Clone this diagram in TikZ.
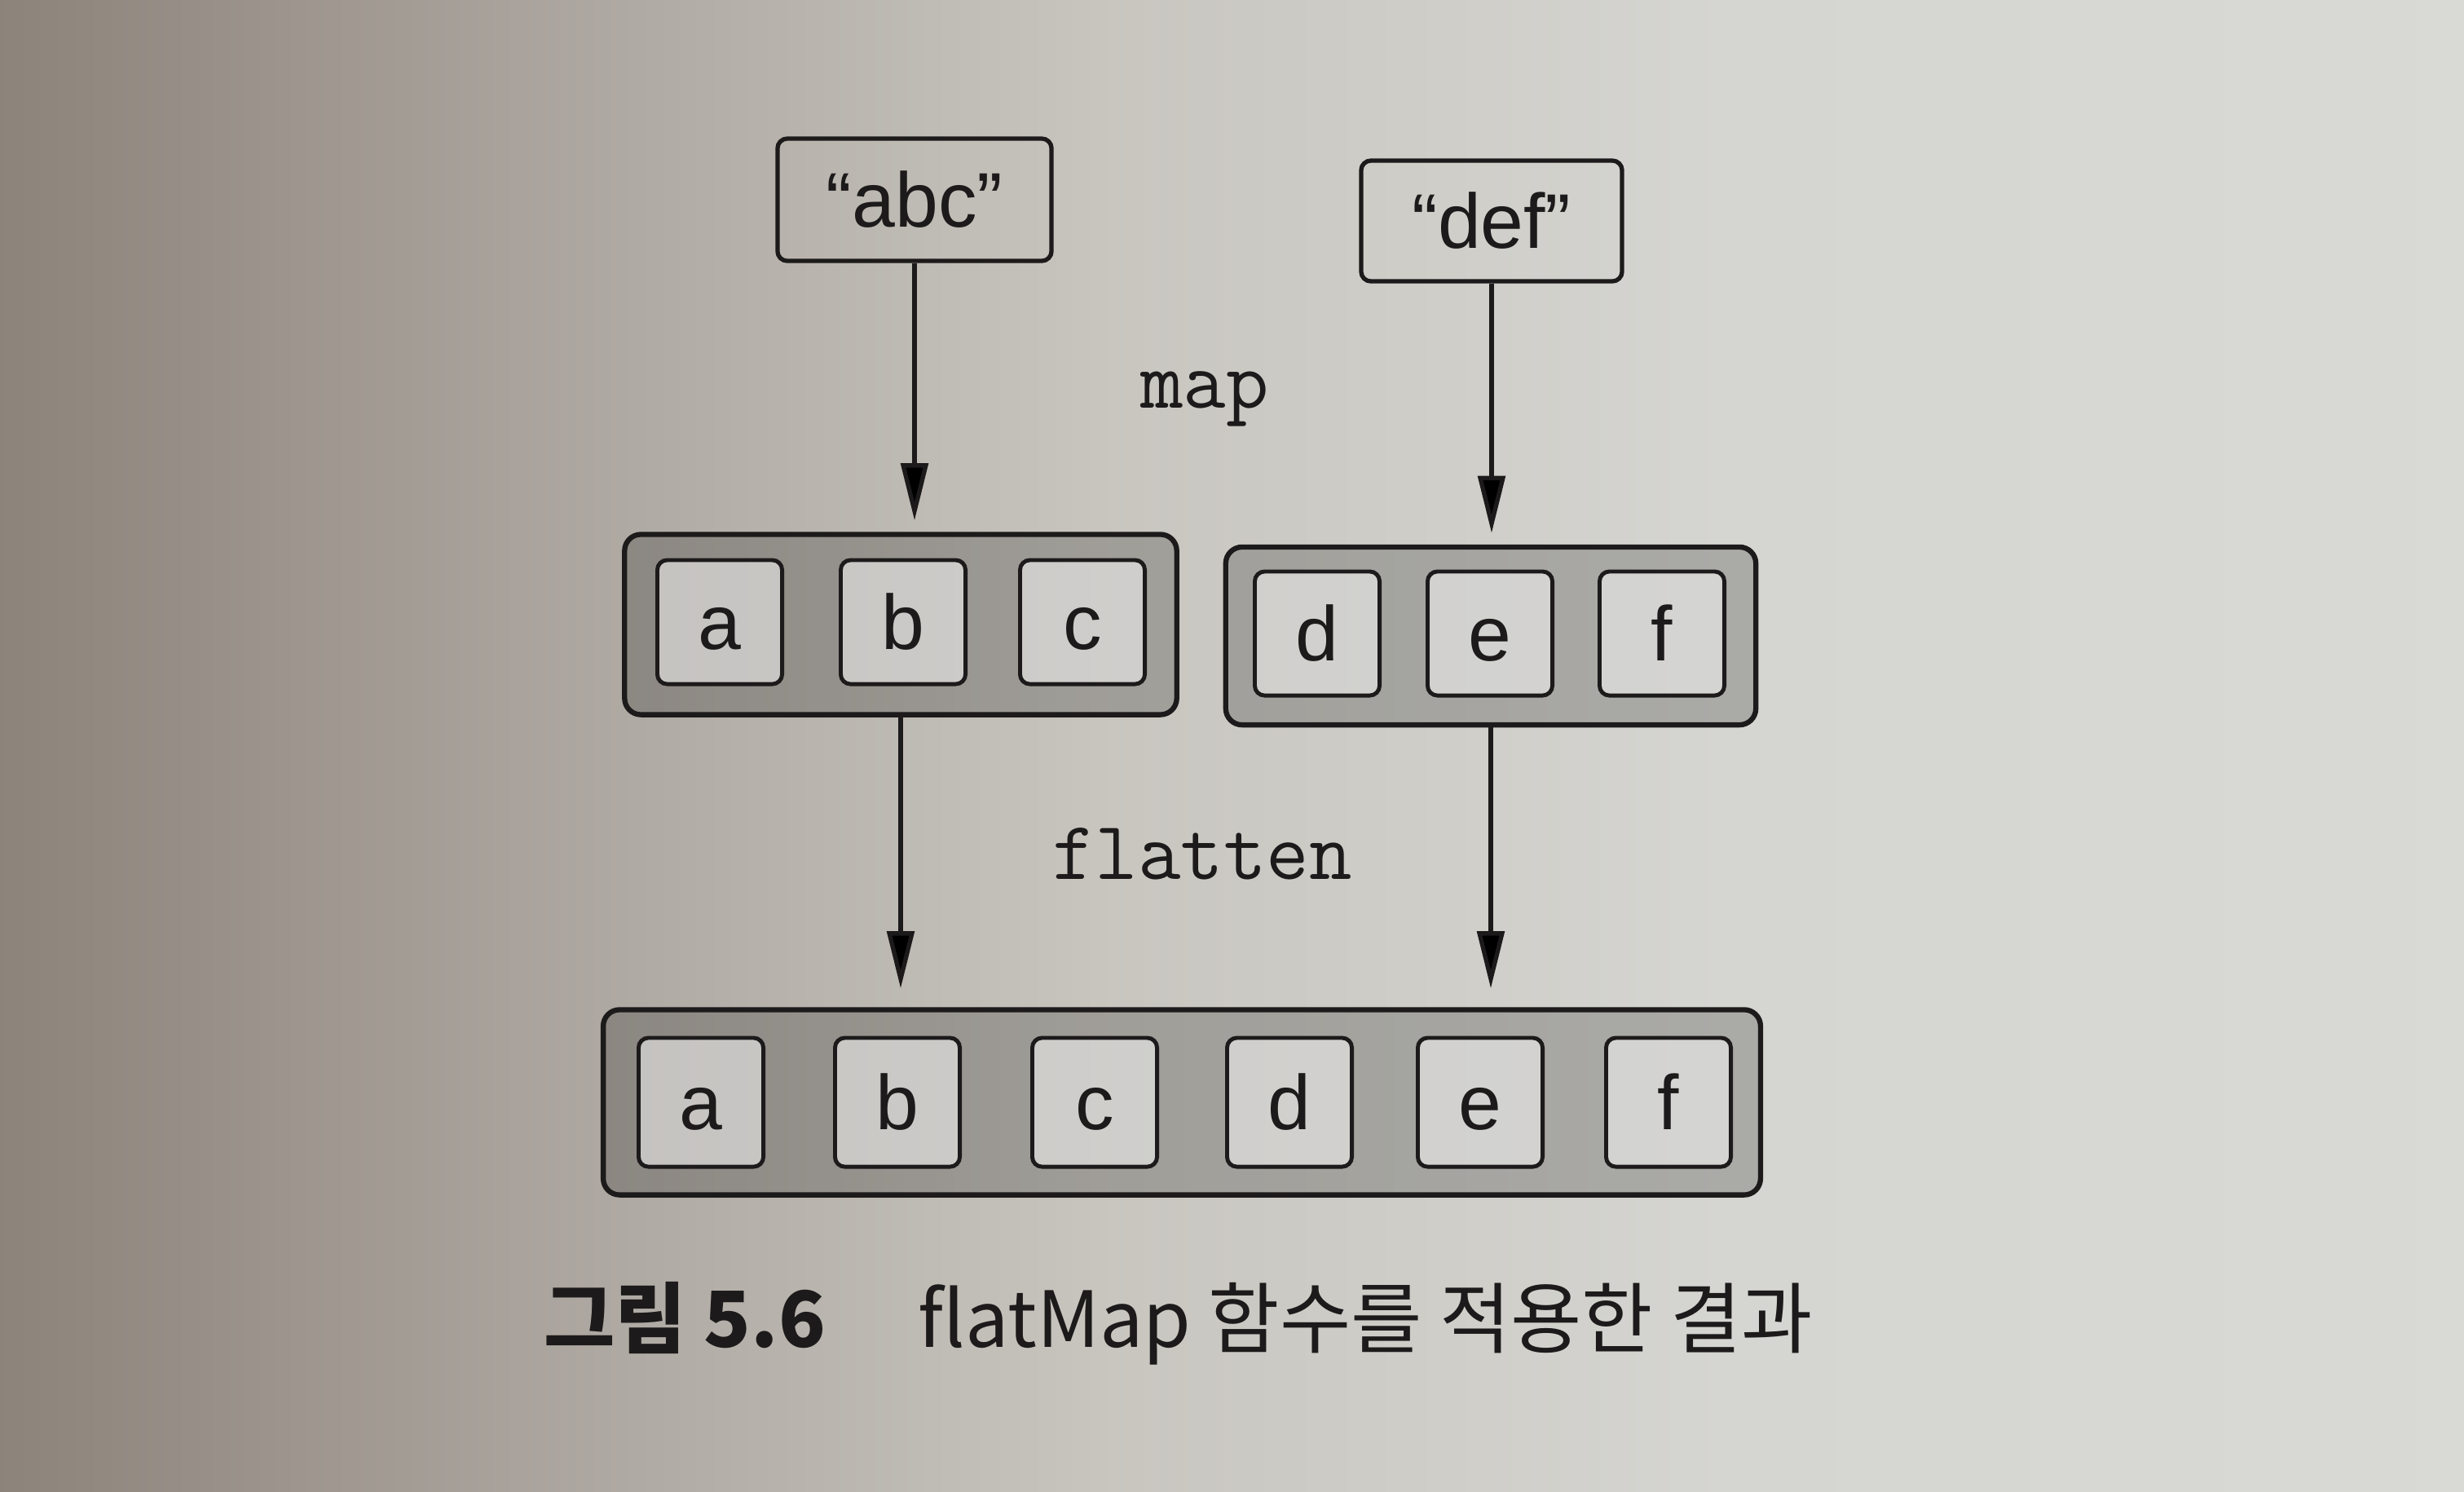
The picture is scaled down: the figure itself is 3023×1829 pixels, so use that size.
\documentclass[tikz,border=0pt]{standalone}
\usepackage{fontspec}
\setmainfont{Liberation Sans}
\newfontfamily\krfont{Noto Sans CJK KR}
\usetikzlibrary{arrows.meta, positioning}
\definecolor{ink}{RGB}{28,26,26}
\pgfdeclarehorizontalshading{paper}{100bp}{rgb(0bp)=(0.55,0.515,0.48); rgb(25bp)=(0.55,0.515,0.48); rgb(36bp)=(0.67,0.645,0.62); rgb(47.5bp)=(0.785,0.775,0.75); rgb(60bp)=(0.835,0.835,0.82); rgb(75bp)=(0.85,0.85,0.835); rgb(100bp)=(0.85,0.85,0.835)}
\tikzset{->,>={Triangle[length=7mm, width=3.3mm]},
strbox/.style={draw=ink, line width=1.5pt, rounded corners=1.2mm, inner sep=0pt, minimum height=1.5cm, text=ink, font=\fontsize{27}{30}\selectfont, text height=19.3pt, text depth=0pt},
group/.style={draw=ink, line width=1.8pt, rounded corners=2mm, fill=black, fill opacity=0.2, draw opacity=1, inner sep=0pt, minimum height=2.21cm},
cell/.style={draw=ink, line width=1.4pt, rounded corners=1.2mm, fill=white, fill opacity=0.5, draw opacity=1, text opacity=1, text=ink, inner sep=0pt, minimum width=1.53cm, minimum height=1.52cm, font=\fontsize{27}{30}\selectfont, text height=19.3pt, text depth=0pt},
op/.style={text=ink, font=\ttfamily\fontsize{29}{32}\selectfont},
caption/.style={anchor=base west, text=ink, font=\krfont\fontsize{27}{30}\selectfont},
}

\begin{document}
\begin{tikzpicture}[x=0.01cm, y=-0.01cm]
    \useasboundingbox (0,0) rectangle (3023,1829);
    \shade[shading=paper, -] (0,0) rectangle (3023,1829);
    % strings
    \node[strbox, minimum width=3.36cm] (abc) at (1122,245) {“abc”};
    \node[strbox, minimum width=3.2cm, minimum height=1.48cm] (def) at (1830,271) {“def”};
    % after map
    \node[group, minimum width=6.77cm] (grpL) at (1105,766) {};
    \node[group, minimum width=6.5cm, minimum height=2.18cm] (grpR) at (1829,780) {};
    \foreach \t/\x in {a/883, b/1108, c/1328}
        \node[cell] (l\t) at (\x,763) {\t};
    \foreach \t/\x in {d/1616, e/1828, f/2039}
        \node[cell] (r\t) at (\x,777) {\t};
    % after flatten
    \node[group, minimum width=14.19cm, minimum height=2.27cm] (grpF) at (1450,1352) {};
    \foreach \t/\x in {a/860, b/1101, c/1343, d/1582, e/1816, f/2047}
        \node[cell, minimum height=1.58cm] (f\t) at (\x,1352) {\t};
    \node[op, anchor=base] (map) at (1478,500) {map};
    \node[op, anchor=base] (flatten) at (1475,1078) {flatten};
    \draw[draw=ink, line width=1.5pt]
        (abc) edge[shorten >=1.4mm] (abc |- grpL.north)
        (def) edge[shorten >=1.4mm] (def |- grpR.north)
        (grpL) edge[shorten >=2.3mm] (grpL |- grpF.north)
        (grpR) edge[shorten >=2.3mm] (grpR |- grpF.north)
        ;
    \node[caption, font=\krfont\bfseries\fontsize{27}{30}\selectfont] (capnum) at (655,1652) {그림 5.6};
    \node[caption] (captext) at (1114,1652) {flatMap 함수를 적용한 결과};
\end{tikzpicture}
\end{document}
